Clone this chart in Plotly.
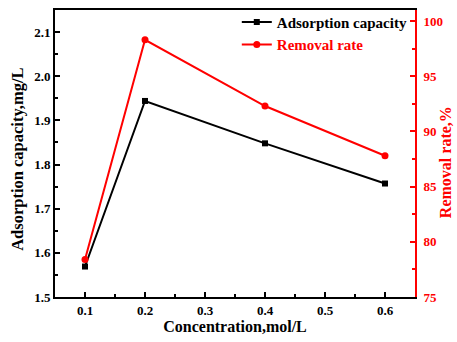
import plotly.graph_objects as go

# Concentration (mol/L)
concentration = [0.1, 0.2, 0.4, 0.6]
# Adsorption capacity (mg/L)
adsorption_capacity = [1.569, 1.944, 1.848, 1.757]
# Removal rate (%)
removal_rate = [78.4, 98.3, 92.3, 87.8]

FONT = "Liberation Serif"
RED = "#ff0000"


def bold(size, color="black"):
    return dict(family=FONT, size=size, color=color, weight="bold")


fig = go.Figure()
fig.add_trace(go.Scatter(
    x=concentration, y=adsorption_capacity, mode="lines+markers",
    name="Adsorption capacity",
    line=dict(color="black", width=2),
    marker=dict(symbol="square", size=6, color="black"),
    yaxis="y",
))
fig.add_trace(go.Scatter(
    x=concentration, y=removal_rate, mode="lines+markers",
    name=f"<span style='color:{RED}'>Removal rate</span>",
    line=dict(color=RED, width=2),
    marker=dict(symbol="circle", size=7, color=RED),
    yaxis="y2",
))

fig.update_layout(
    width=457, height=342,
    margin=dict(l=55, r=42, t=6, b=45),
    paper_bgcolor="white", plot_bgcolor="white",
    font=bold(13),
    showlegend=True,
    legend=dict(
        x=0.505, y=1.015, xanchor="left", yanchor="top",
        bgcolor="rgba(0,0,0,0)", borderwidth=0,
        font=bold(15),
        tracegroupgap=0, itemwidth=30,
    ),
    xaxis=dict(
        range=[0.05, 0.65], tickvals=[0.1, 0.2, 0.3, 0.4, 0.5, 0.6],
        ticktext=["0.1", "0.2", "0.3", "0.4", "0.5", "0.6"],
        tickfont=bold(13),
        ticks="inside", ticklen=5, tickwidth=1.5, tickcolor="black",
        minor=dict(dtick=0.05, tick0=0.05, ticks="inside", ticklen=3, tickcolor="black"),
        showline=True, linecolor="black", linewidth=2, mirror=True,
        showgrid=False, zeroline=False,
        title=dict(text="Concentration,mol/L", font=bold(16), standoff=4),
    ),
    yaxis=dict(
        range=[1.5, 2.15], tickvals=[1.5, 1.6, 1.7, 1.8, 1.9, 2.0, 2.1],
        ticktext=["1.5", "1.6", "1.7", "1.8", "1.9", "2.0", "2.1"],
        tickfont=bold(13),
        ticks="inside", ticklen=5, tickwidth=1.5, tickcolor="black",
        minor=dict(dtick=0.05, tick0=1.5, ticks="inside", ticklen=3, tickcolor="black"),
        showline=True, linecolor="black", linewidth=2,
        showgrid=False, zeroline=False,
    ),
    yaxis2=dict(
        overlaying="y", side="right",
        range=[75, 101], tickvals=[75, 80, 85, 90, 95, 100],
        ticktext=["75", "80", "85", "90", "95", "100"],
        tickfont=bold(13, RED),
        ticks="inside", ticklen=5, tickwidth=1.5, tickcolor=RED,
        minor=dict(dtick=2.5, tick0=75, ticks="inside", ticklen=3, tickcolor=RED),
        showline=True, linecolor=RED, linewidth=2,
        showgrid=False, zeroline=False,
        ticklabelstandoff=4,
    ),
    annotations=[
        dict(text="Adsorption capacity,mg/L", textangle=-90, font=bold(16.5),
             xref="paper", yref="paper", x=-0.103, y=0.481,
             xanchor="center", yanchor="middle", showarrow=False),
        dict(text="Removal rate,%", textangle=-90, font=bold(16, RED),
             xref="paper", yref="paper", x=1.087, y=0.471,
             xanchor="center", yanchor="middle", showarrow=False),
    ],
)

fig.write_html("out.html")
